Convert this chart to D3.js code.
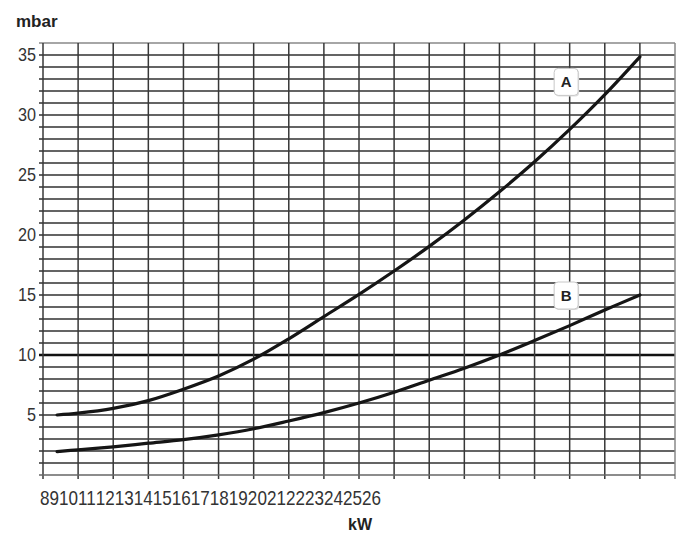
<!DOCTYPE html>
<html>
<head>
<meta charset="utf-8">
<script src="https://cdn.jsdelivr.net/npm/d3@7"></script>
<style>
    body { margin: 0; background: #fff; }
    svg { display: block; font-family: "Liberation Sans", Arial, sans-serif; }
</style>
</head>
<body>
<div class="svg-target"></div>
<script>
// Data
const kw = [8.4, 9, 10, 11, 12, 13, 14, 15, 16, 17, 18, 19, 20, 21, 22, 23, 24, 25];
const curveA = [5.0, 5.15, 5.55, 6.2, 7.15, 8.25, 9.65, 11.35, 13.2, 15.05, 17.0, 19.05, 21.25, 23.6, 26.1, 28.8, 31.7, 34.85];
const curveB = [1.95, 2.1, 2.35, 2.65, 2.95, 3.35, 3.85, 4.5, 5.2, 6.0, 6.9, 7.9, 8.9, 10.0, 11.2, 12.45, 13.75, 15.0];
const xTicks = d3.range(8, 27);          // 8 ... 26
const yTicks = [5, 10, 15, 20, 25, 30, 35];
const yGrid = d3.range(1, 37);
const seriesLabels = [
    {name: 'A', x: 22.9, y: 32.8},
    {name: 'B', x: 22.9, y: 15.0}
];

const w = 679;
const h = 534;
const padding = {t: 43, r: 4, b: 59, l: 43};

const svg = d3.select('.svg-target')
    .append('svg')
    .attr('width', w)
    .attr('height', h);

const xScale = d3.scaleLinear()
    .domain([8, 26])
    .range([padding.l, w - padding.r]);

const yScale = d3.scaleLinear()
    .domain([0, 36])
    .range([h - padding.b, padding.t]);

// Grid
const grid = svg.append('g').attr('id', 'grid');
grid.selectAll('.hline')
    .data(yGrid)
    .enter().append('line')
    .attr('x1', padding.l - 4)
    .attr('x2', w - padding.r)
    .attr('y1', d => yScale(d))
    .attr('y2', d => yScale(d))
    .attr('stroke', d => d === 10 ? '#111' : (d === 36 ? '#888' : '#303030'))
    .attr('stroke-width', d => d === 10 ? 2.4 : 1.4);

grid.selectAll('.vline')
    .data(xTicks)
    .enter().append('line')
    .attr('x1', d => xScale(d))
    .attr('x2', d => xScale(d))
    .attr('y1', padding.t)
    .attr('y2', h - padding.b + 4)
    .attr('stroke', d => d === 26 ? '#888' : '#383838')
    .attr('stroke-width', 1.5);

// bottom axis line
svg.append('line')
    .attr('x1', padding.l - 4)
    .attr('x2', w - padding.r)
    .attr('y1', yScale(0))
    .attr('y2', yScale(0))
    .attr('stroke', '#666')
    .attr('stroke-width', 1.4);

// y labels
svg.append('g')
    .attr('id', 'y-axis')
    .selectAll('text')
    .data(yTicks)
    .enter().append('text')
    .attr('transform', d => `translate(36, ${yScale(d)}) scale(0.9, 1)`)
    .attr('dy', '0.36em')
    .attr('text-anchor', 'end')
    .attr('font-size', 18)
    .attr('fill', '#333')
    .text(d => d);

// x labels, packed one after the other like in the original
const xLabels = svg.append('g')
    .attr('id', 'x-axis')
    .attr('transform', `translate(40, 505) scale(0.855, 1)`);
let cursor = 0;
xTicks.forEach(d => {
    const t = xLabels.append('text')
        .attr('x', cursor)
        .attr('font-size', 20)
        .attr('fill', '#333')
        .text(d);
    cursor += t.node().getComputedTextLength();
});

// Axis titles
svg.append('text')
    .attr('x', 16)
    .attr('y', 27)
    .attr('font-size', 17)
    .attr('font-weight', 'bold')
    .attr('fill', '#222')
    .text('mbar');

svg.append('text')
    .attr('x', 360)
    .attr('y', 530)
    .attr('text-anchor', 'middle')
    .attr('font-size', 16)
    .attr('font-weight', 'bold')
    .attr('fill', '#222')
    .text('kW');

// Curves
const line = d3.line()
    .x((d, i) => xScale(kw[i]))
    .y(d => yScale(d))
    .curve(d3.curveCatmullRom.alpha(0.5));

[curveA, curveB].forEach(s => {
    svg.append('path')
        .datum(s)
        .attr('d', line)
        .attr('fill', 'none')
        .attr('stroke', '#151515')
        .attr('stroke-width', 3.2)
        .attr('stroke-linecap', 'round');
});

// Series labels
const tags = svg.selectAll('.tag')
    .data(seriesLabels)
    .enter().append('g')
    .attr('transform', d => `translate(${xScale(d.x)}, ${yScale(d.y)})`);
tags.append('rect')
    .attr('x', -11)
    .attr('y', -12)
    .attr('width', 24)
    .attr('height', 27)
    .attr('rx', 4)
    .attr('fill', '#ddd');
tags.append('rect')
    .attr('x', -12)
    .attr('y', -13)
    .attr('width', 24)
    .attr('height', 27)
    .attr('rx', 4)
    .attr('fill', '#fff')
    .attr('stroke', '#c8c8c8')
    .attr('stroke-width', 1);
tags.append('text')
    .attr('y', 6)
    .attr('text-anchor', 'middle')
    .attr('font-size', 15)
    .attr('font-weight', 'bold')
    .attr('fill', '#222')
    .text(d => d.name);
</script>
</body>
</html>
